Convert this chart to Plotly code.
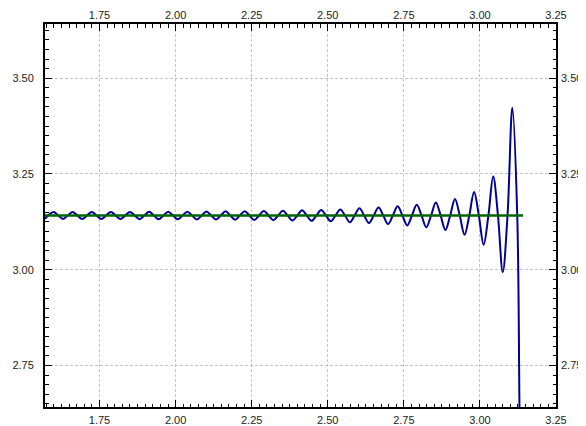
import plotly.graph_objects as go

PI = 3.141592653589793

# Blue oscillating curve: points (extrema and crossings of pi)
wave_x = [
    1.5708, 1.5987, 1.6144, 1.6301, 1.6458, 1.6615, 1.6772, 1.6930, 1.7087, 1.7244,
    1.7401, 1.7558, 1.7715, 1.7872, 1.8029, 1.8187, 1.8344, 1.8500, 1.8657, 1.8815,
    1.8972, 1.9129, 1.9286, 1.9443, 1.9600, 1.9757, 1.9914, 2.0071, 2.0228, 2.0385,
    2.0542, 2.0699, 2.0856, 2.1013, 2.1170, 2.1328, 2.1485, 2.1642, 2.1799, 2.1956,
    2.2113, 2.2270, 2.2427, 2.2584, 2.2741, 2.2898, 2.3055, 2.3212, 2.3369, 2.3526,
    2.3683, 2.3841, 2.3998, 2.4155, 2.4312, 2.4469, 2.4626, 2.4783, 2.4940, 2.5097,
    2.5254, 2.5411, 2.5568, 2.5725, 2.5882, 2.6039, 2.6196, 2.6353, 2.6510, 2.6668,
    2.6825, 2.6982, 2.7139, 2.7296, 2.7453, 2.7610, 2.7767, 2.7924, 2.8081, 2.8238,
    2.8395, 2.8552, 2.8709, 2.8866, 2.9023, 2.9180, 2.9337, 2.9494, 2.9651, 2.9808,
    2.9965, 3.0122, 3.0279, 3.0436, 3.0593, 3.0750, 3.0907, 3.1065, 3.1226, 3.1299,
    3.1380,
]
wave_y = [
    3.1331, 3.1506, 3.1416, 3.1326, 3.1416, 3.1506, 3.1416, 3.1325, 3.1416, 3.1507,
    3.1416, 3.1324, 3.1416, 3.1508, 3.1416, 3.1323, 3.1416, 3.1510, 3.1416, 3.1321,
    3.1416, 3.1512, 3.1416, 3.1319, 3.1416, 3.1514, 3.1416, 3.1317, 3.1416, 3.1517,
    3.1416, 3.1313, 3.1416, 3.1520, 3.1416, 3.1310, 3.1416, 3.1525, 3.1416, 3.1305,
    3.1416, 3.1529, 3.1416, 3.1300, 3.1416, 3.1535, 3.1416, 3.1293, 3.1416, 3.1542,
    3.1416, 3.1286, 3.1416, 3.1551, 3.1416, 3.1276, 3.1416, 3.1561, 3.1416, 3.1265,
    3.1416, 3.1575, 3.1416, 3.1238, 3.1416, 3.1603, 3.1416, 3.1218, 3.1416, 3.1626,
    3.1416, 3.1192, 3.1416, 3.1656, 3.1416, 3.1158, 3.1416, 3.1697, 3.1416, 3.1109,
    3.1416, 3.1756, 3.1416, 3.1035, 3.1416, 3.1846, 3.1416, 3.0912, 3.1416, 3.2030,
    3.1416, 3.0651, 3.1416, 3.2436, 3.1416, 2.9936, 3.1416, 3.4226, 3.1416, 2.6440,
    1.9000,
]

# Green reference line y = pi on [pi/2, pi]
ref_x = [PI / 2, PI]
ref_y = [PI, PI]

x_range = [PI / 2, 3.25]
y_range = [PI - 0.5, PI + 0.5]

font = dict(family="Liberation Sans, Arial, sans-serif", size=11, color="#222222")

fig = go.Figure()
fig.add_trace(go.Scatter(x=wave_x, y=wave_y, mode="lines",
                         line=dict(color="#000096", width=2, shape="spline", smoothing=1.0),
                         hoverinfo="skip", showlegend=False))
fig.add_trace(go.Scatter(x=ref_x, y=ref_y, mode="lines",
                         line=dict(color="#006400", width=2.5),
                         hoverinfo="skip", showlegend=False))
fig.add_trace(go.Scatter(x=ref_x, y=ref_y, mode="lines", xaxis="x2", yaxis="y2",
                         line=dict(width=0), opacity=0, hoverinfo="skip", showlegend=False))

axis_common = dict(
    dtick=0.25, tick0=0, tickformat=".2f",
    ticks="inside", ticklen=7, tickwidth=1, tickcolor="black",
    tickfont=font, zeroline=False, automargin=False,
)

# the page body adds an 8px offset, so the figure is 8px smaller with margins shifted
fig.update_layout(
    width=578, height=418,
    margin=dict(l=37, r=30, t=16, b=19),
    paper_bgcolor="white", plot_bgcolor="white",
    showlegend=False,
    xaxis=dict(range=x_range, showline=True, linecolor="black", linewidth=2, mirror="allticks",
               showgrid=True, gridcolor="#c4c4c4", gridwidth=1, griddash="3px,2px",
               minor=dict(dtick=0.025, tick0=0, ticks="inside", ticklen=3.5, tickcolor="black", showgrid=False),
               ticklabelstandoff=2,
               **axis_common),
    yaxis=dict(range=y_range, showline=True, linecolor="black", linewidth=2, mirror="allticks",
               showgrid=True, gridcolor="#c4c4c4", gridwidth=1, griddash="3px,2px",
               minor=dict(dtick=0.025, tick0=0, ticks="inside", ticklen=3.5, tickcolor="black", showgrid=False),
               ticklabelstandoff=7,
               **axis_common),
    xaxis2=dict(range=x_range, overlaying="x", side="top", anchor="y", showgrid=False,
                showline=False, dtick=0.25, tick0=0, tickformat=".2f", ticks="",
                tickfont=font, zeroline=False, ticklabelstandoff=2, automargin=False),
    yaxis2=dict(range=y_range, overlaying="y", side="right", anchor="x", showgrid=False,
                showline=False, dtick=0.25, tick0=0, tickformat=".2f", ticks="",
                tickfont=font, zeroline=False, ticklabelstandoff=4, automargin=False),
)

fig.write_html("out.html")
